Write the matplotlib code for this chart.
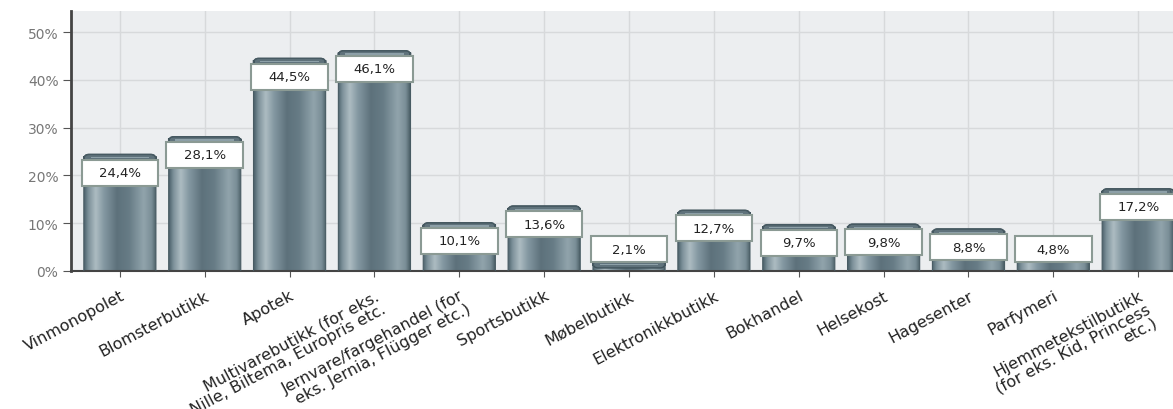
import numpy as np
import matplotlib
matplotlib.use("Agg")
import matplotlib.pyplot as plt
from matplotlib.colors import LinearSegmentedColormap
from matplotlib.patches import FancyBboxPatch, Rectangle

categories = [
    "Vinmonopolet",
    "Blomsterbutikk",
    "Apotek",
    "Multivarebutikk (for eks.\nNille, Biltema, Europris etc.",
    "Jernvare/fargehandel (for\neks. Jernia, Flügger etc.)",
    "Sportsbutikk",
    "Møbelbutikk",
    "Elektronikkbutikk",
    "Bokhandel",
    "Helsekost",
    "Hagesenter",
    "Parfymeri",
    "Hjemmetekstilbutikk\n(for eks. Kid, Princess\netc.)",
]
values = [24.4, 28.1, 44.5, 46.1, 10.1, 13.6, 2.1, 12.7, 9.7, 9.8, 8.8, 4.8, 17.2]
value_labels = ["24,4%", "28,1%", "44,5%", "46,1%", "10,1%", "13,6%", "2,1%",
                "12,7%", "9,7%", "9,8%", "8,8%", "4,8%", "17,2%"]
yticks = [0, 10, 20, 30, 40, 50]
ytick_labels = ["0%", "10%", "20%", "30%", "40%", "50%"]

W, H = 11.73, 4.10
fig = plt.figure(figsize=(W, H), dpi=100)
ax = fig.add_axes([0.0605, 0.3366, 0.9395, 0.634])
ax.set_facecolor("#eceef0")

x = np.arange(len(values))
xlim = (-0.576, 12.41)
ylim = (0, 54.4)
ax.set_xlim(*xlim)
ax.set_ylim(*ylim)

bw = 0.85
cmap = LinearSegmentedColormap.from_list("cyl", [
    (0.00, "#4d626c"),
    (0.06, "#7d919a"),
    (0.16, "#adbcc2"),
    (0.28, "#8296a0"),
    (0.45, "#5d717b"),
    (0.62, "#677c86"),
    (0.82, "#91a4ac"),
    (0.93, "#7a8e97"),
    (1.00, "#43575f"),
])
grad = np.linspace(0, 1, 256).reshape(1, -1)

axw_px = 0.9395 * W * 100
axh_px = 0.634 * H * 100
aspect = ((ylim[1] - ylim[0]) / axh_px) / ((xlim[1] - xlim[0]) / axw_px)
rs = 0.06
px_y = (ylim[1] - ylim[0]) / axh_px

for xi, v, lab in zip(x, values, value_labels):
    l = xi - bw / 2
    clip = FancyBboxPatch((l, -3), bw, v + 3,
                          boxstyle=f"round,pad=0,rounding_size={rs}",
                          mutation_aspect=aspect, transform=ax.transData,
                          facecolor="none", edgecolor="none")
    ax.add_patch(clip)
    im = ax.imshow(grad, extent=[l, l + bw, 0, v], aspect="auto", cmap=cmap,
                   interpolation="bicubic", zorder=2)
    im.set_clip_path(clip)
    # top cap
    cap_h = 7 * px_y
    cap = FancyBboxPatch((l, v - cap_h), bw, cap_h,
                         boxstyle=f"round,pad=0,rounding_size={rs}",
                         mutation_aspect=aspect, facecolor="#5f727b",
                         edgecolor="#3f525a", linewidth=1.0, zorder=3)
    ax.add_patch(cap)
    hl = Rectangle((l + 0.08, v - cap_h * 0.55), bw - 0.16, cap_h * 0.18,
                   facecolor="#8da0a8", edgecolor="none", zorder=3.1)
    ax.add_patch(hl)
    outline = FancyBboxPatch((l, -3), bw, v + 3,
                             boxstyle=f"round,pad=0,rounding_size={rs}",
                             mutation_aspect=aspect, facecolor="none",
                             edgecolor="#485b63", linewidth=0.8, zorder=3)
    ax.add_patch(outline)
    # value label box
    cy = max(v - 3.8, 4.6)
    bh = 26 * px_y
    bwl = bw * 1.06
    box = Rectangle((xi - bwl / 2, cy - bh / 2), bwl, bh, facecolor="white",
                    edgecolor="#8b9a94", linewidth=1.5, zorder=4)
    ax.add_patch(box)
    ax.text(xi, cy, lab, ha="center", va="center", fontsize=9.5,
            color="#222222", zorder=5)

ax.set_yticks(yticks)
ax.set_yticklabels(ytick_labels, color="#777777", fontsize=10)
ax.set_xticks(x)
ax.set_xticklabels(categories, rotation=28, ha="right", rotation_mode="anchor",
                   fontsize=11.5, color="#222222", linespacing=1.0)
ax.tick_params(axis="y", length=6, color="#555555", pad=3)
ax.tick_params(axis="x", length=4, color="#555555", pad=8)
ax.grid(True, color="#d7d9db", linewidth=1.0, zorder=0)
ax.set_axisbelow(True)
for s in ["top", "right"]:
    ax.spines[s].set_visible(False)
ax.spines["left"].set_color("#444444")
ax.spines["left"].set_linewidth(2)
ax.spines["bottom"].set_color("#444444")
ax.spines["bottom"].set_linewidth(1.5)

fig.savefig("out.png", dpi=100)
